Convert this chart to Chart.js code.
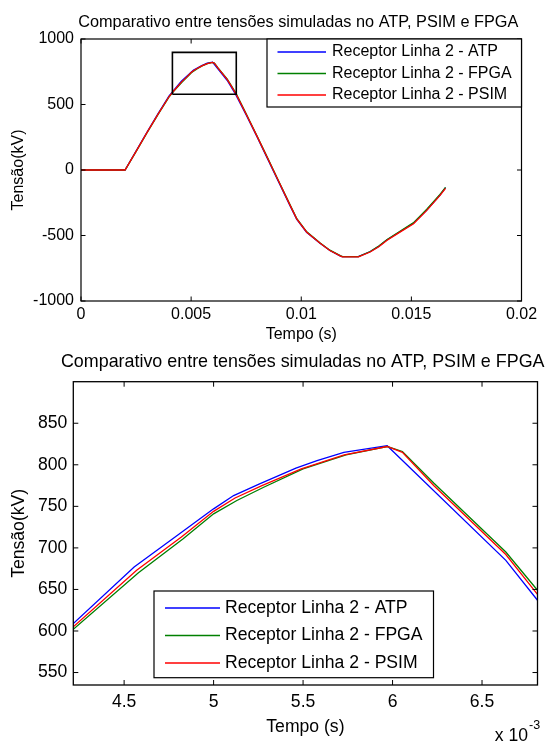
<!DOCTYPE html>
<html>
<head>
<meta charset="utf-8">
<script src="https://cdn.jsdelivr.net/npm/chart.js@4.4.1/dist/chart.umd.min.js"></script>
<style>
  html, body { margin: 0; padding: 0; background: #fff; }
  canvas { display: block; }
</style>
</head>
<body>
<canvas id="fullChart" width="547" height="345"></canvas>
<canvas id="zoomChart" width="547" height="398"></canvas>
<script>
const chartTitle = 'Comparativo entre tensões simuladas no ATP, PSIM e FPGA';
const seriesLabels = ['Receptor Linha 2 - ATP', 'Receptor Linha 2 - FPGA', 'Receptor Linha 2 - PSIM'];
const seriesColors = ['#0000ff', '#008000', '#ff0000'];

// tempo em ms, tensao em kV
const timeAtp = [0, 2.0, 2.5, 3.0, 3.5, 4.0, 4.216, 4.556, 4.804, 5.0, 5.112, 5.257, 5.46, 5.578, 5.728, 5.97, 6.633, 6.81, 7.02, 7.5, 8.0, 8.5, 9.0, 9.5, 9.79, 10.24, 10.85, 11.3, 11.76, 11.85, 12.59, 13.12, 13.5, 13.88, 14.5, 15.09, 15.7, 16.3, 16.55];
const voltAtp = [0, 0, 145, 290, 430, 565, 609, 677, 716, 747, 763, 777, 796, 805, 815, 823, 685, 637, 577, 420, 250, 75, -100, -277, -375, -475, -560, -615, -655, -662, -662, -624, -585, -534, -470, -407, -305, -191, -135];

const timeFpga = [0, 2.0, 2.5, 3.0, 3.5, 4.0, 4.216, 4.58, 4.83, 5.0, 5.13, 5.28, 5.5, 5.74, 5.97, 6.055, 6.23, 6.633, 6.81, 7.05, 7.5, 8.0, 8.5, 9.0, 9.5, 9.8, 10.25, 10.86, 11.3, 11.77, 11.88, 12.6, 13.13, 13.52, 13.9, 14.5, 15.1, 15.7, 16.3, 16.55];
const voltFpga = [0, 0, 140, 284, 424, 558, 602, 670, 711, 741, 757, 773, 795, 812, 822, 816, 778, 695, 649, 582, 430, 258, 83, -93, -268, -372, -472, -557, -612, -653, -661, -661, -622, -580, -530, -466, -402, -300, -187, -132];

const timePsim = [0, 2.0, 2.5, 3.0, 3.5, 4.0, 4.216, 4.57, 4.82, 5.0, 5.12, 5.27, 5.49, 5.73, 5.97, 6.055, 6.23, 6.633, 6.81, 7.04, 7.5, 8.0, 8.5, 9.0, 9.5, 9.8, 10.25, 10.86, 11.3, 11.77, 11.86, 12.6, 13.13, 13.52, 13.9, 14.5, 15.1, 15.7, 16.3, 16.55];
const voltPsim = [0, 0, 142, 287, 427, 561, 605, 673, 713, 744, 760, 775, 795, 812, 822, 815, 775, 692, 644, 579, 426, 255, 80, -96, -272, -375, -475, -560, -615, -656, -663, -663, -626, -586, -536, -472, -410, -308, -194, -140];

// retangulo de zoom no primeiro grafico
const zoomBoxTime = [4.15, 7.05];
const zoomBoxVolt = [578, 898];

const fullXTicks = [0, 0.005, 0.01, 0.015, 0.02];
const fullXLabels = ['0', '0.005', '0.01', '0.015', '0.02'];
const fullYTicks = [-1000, -500, 0, 500, 1000];
const zoomXTicks = [4.5, 5, 5.5, 6, 6.5]; // x 10^-3 s
const zoomXLabels = ['4.5', '5', '5.5', '6', '6.5'];
const zoomYTicks = [550, 600, 650, 700, 750, 800, 850];

const FONT = "'Liberation Sans', Arial, sans-serif";
const series = [[timeAtp, voltAtp], [timeFpga, voltFpga], [timePsim, voltPsim]];

function toPoints(times, volts) {
  return times.map((t, i) => ({ x: t / 1000, y: volts[i] }));
}

function lineSets(width) {
  return series.map((s, i) => ({
    label: seriesLabels[i],
    data: toPoints(s[0], s[1]),
    borderColor: seriesColors[i],
    borderWidth: width,
    pointRadius: 0,
    tension: 0,
    order: 3 - i
  }));
}

// moldura estilo MATLAB: titulo, caixa, ticks para dentro, legenda
const matlabFrame = {
  id: 'matlabFrame',
  afterDatasetsDraw(chart, args, o) {
    const ctx = chart.ctx;
    const a = chart.chartArea;
    const xs = chart.scales.x, ys = chart.scales.y;
    ctx.save();

    ctx.fillStyle = '#000';
    ctx.font = o.titleSize + 'px ' + FONT;
    ctx.textAlign = 'center';
    ctx.textBaseline = 'middle';
    ctx.fillText(chartTitle, (a.left + a.right) / 2 + o.titleShift, o.titleY);

    ctx.strokeStyle = '#000';
    ctx.lineWidth = 1;
    ctx.beginPath();
    xs.ticks.forEach(t => {
      const p = xs.getPixelForValue(t.value);
      ctx.moveTo(p, a.bottom); ctx.lineTo(p, a.bottom - o.tickLen);
      ctx.moveTo(p, a.top); ctx.lineTo(p, a.top + o.tickLen);
    });
    ys.ticks.forEach(t => {
      const p = ys.getPixelForValue(t.value);
      ctx.moveTo(a.left, p); ctx.lineTo(a.left + o.tickLen, p);
      ctx.moveTo(a.right, p); ctx.lineTo(a.right - o.tickLen, p);
    });
    ctx.stroke();
    ctx.lineWidth = o.boxWidth;
    ctx.strokeRect(a.left, a.top, a.right - a.left, a.bottom - a.top);

    const lg = o.legend;
    const lx = lg.fromRight ? a.right - lg.width : a.left + lg.left;
    const ly = a.top + lg.top;
    ctx.fillStyle = '#fff';
    ctx.fillRect(lx, ly, lg.width, lg.height);
    ctx.lineWidth = 1.2;
    ctx.strokeRect(lx, ly, lg.width, lg.height);
    ctx.font = lg.fontSize + 'px ' + FONT;
    ctx.textBaseline = 'middle';
    ctx.textAlign = 'left';
    for (let i = 0; i < 3; i++) {
      const ds = chart.data.datasets[i];
      const y = ly + lg.first + i * lg.step;
      ctx.strokeStyle = ds.borderColor;
      ctx.lineWidth = lg.lineWidth;
      ctx.beginPath();
      ctx.moveTo(lx + lg.sample[0], y);
      ctx.lineTo(lx + lg.sample[1], y);
      ctx.stroke();
      ctx.fillStyle = '#000';
      ctx.fillText(ds.label, lx + lg.textX, y);
    }

    if (o.exponent) {
      const e = o.exponent;
      ctx.textBaseline = 'alphabetic';
      ctx.textAlign = 'right';
      ctx.font = e.fontSize + 'px ' + FONT;
      ctx.fillText('x 10', e.x, e.y);
      ctx.textAlign = 'left';
      ctx.font = e.supSize + 'px ' + FONT;
      ctx.fillText('-3', e.x + 1, e.y - e.rise);
    }
    ctx.restore();
  }
};

function fixedTicks(values) {
  return scale => { scale.ticks = values.map(v => ({ value: v })); };
}

function makeChart(id, cfg) {
  return new Chart(document.getElementById(id), {
    type: 'line',
    data: { datasets: cfg.datasets },
    options: {
      responsive: false,
      animation: false,
      events: [],
      layout: { padding: { left: 0, right: cfg.padRight, top: cfg.padTop, bottom: 0 } },
      plugins: {
        legend: { display: false },
        tooltip: { enabled: false },
        title: { display: false },
        matlabFrame: cfg.frame
      },
      scales: {
        x: {
          type: 'linear',
          min: cfg.xMin, max: cfg.xMax,
          afterBuildTicks: fixedTicks(cfg.xTicks),
          afterFit: s => { s.height = cfg.xHeight; },
          grid: { display: false, drawTicks: false, tickLength: 0 },
          border: { display: false },
          ticks: {
            color: '#000', padding: cfg.xTickPad, maxRotation: 0, autoSkip: false,
            font: { family: FONT, size: cfg.fs, lineHeight: 1.2 },
            callback: (v, i) => cfg.xLabels[i]
          },
          title: {
            display: true, text: 'Tempo (s)', color: '#000',
            font: { family: FONT, size: cfg.fs, lineHeight: 1.2 },
            padding: { top: 0, bottom: cfg.xTitlePad }
          }
        },
        y: {
          min: cfg.yMin, max: cfg.yMax,
          afterBuildTicks: fixedTicks(cfg.yTicks),
          afterFit: s => { s.width = cfg.yWidth; },
          grid: { display: false, drawTicks: false, tickLength: 0 },
          border: { display: false },
          ticks: {
            color: '#000', padding: cfg.yTickPad, autoSkip: false,
            font: { family: FONT, size: cfg.fs, lineHeight: 1.2 },
            callback: v => String(v)
          },
          title: {
            display: true, text: 'Tensão(kV)', color: '#000',
            font: { family: FONT, size: cfg.fs, lineHeight: 1.2 },
            padding: { top: cfg.yTitlePad, bottom: 0 }
          }
        }
      }
    },
    plugins: [matlabFrame]
  });
}

function buildCharts() {
  const fullSets = lineSets(1.3);
  fullSets.push({
    label: 'zoom',
    data: [
      { x: zoomBoxTime[0] / 1000, y: zoomBoxVolt[0] },
      { x: zoomBoxTime[0] / 1000, y: zoomBoxVolt[1] },
      { x: zoomBoxTime[1] / 1000, y: zoomBoxVolt[1] },
      { x: zoomBoxTime[1] / 1000, y: zoomBoxVolt[0] },
      { x: zoomBoxTime[0] / 1000, y: zoomBoxVolt[0] }
    ],
    borderColor: '#000', borderWidth: 1.6, pointRadius: 0, tension: 0, order: 0
  });

  makeChart('fullChart', {
    datasets: fullSets,
    fs: 16, padRight: 25.5, padTop: 39,
    xMin: 0, xMax: 0.02, xTicks: fullXTicks, xLabels: fullXLabels,
    xHeight: 44, xTickPad: 4.4, xTitlePad: 0.4,
    yMin: -1000, yMax: 1000, yTicks: fullYTicks,
    yWidth: 81, yTickPad: 7, yTitlePad: 8.5,
    frame: {
      titleSize: 16.3, titleY: 23, titleShift: -3,
      tickLen: 4.5, boxWidth: 1.2,
      legend: { fromRight: true, top: 0, width: 254.5, height: 68, fontSize: 16, first: 13, step: 21.5, sample: [10.5, 59], textX: 65, lineWidth: 1.3 }
    }
  });

  makeChart('zoomChart', {
    datasets: lineSets(1.3),
    fs: 17.6, padRight: 9.5, padTop: 36.7,
    xMin: 4.216 / 1000, xMax: 6.81 / 1000, xTicks: zoomXTicks.map(v => v / 1000), xLabels: zoomXLabels,
    xHeight: 58, xTickPad: 6.4, xTitlePad: 5.7,
    yMin: 535, yMax: 900, yTicks: zoomYTicks,
    yWidth: 73.3, yTickPad: 6, yTitlePad: 8.4,
    frame: {
      titleSize: 17.9, titleY: 17, titleShift: -2.7,
      tickLen: 5, boxWidth: 1.3,
      legend: { fromRight: false, left: 80.7, top: 209.3, width: 279.5, height: 86.7, fontSize: 17.6, first: 17, step: 27.5, sample: [11, 66], textX: 71, lineWidth: 1.3 },
      exponent: { x: 528, y: 396, fontSize: 17.6, supSize: 12.5, rise: 12 }
    }
  });
}

document.addEventListener('DOMContentLoaded', () => {
  buildCharts();
});
</script>
</body>
</html>
